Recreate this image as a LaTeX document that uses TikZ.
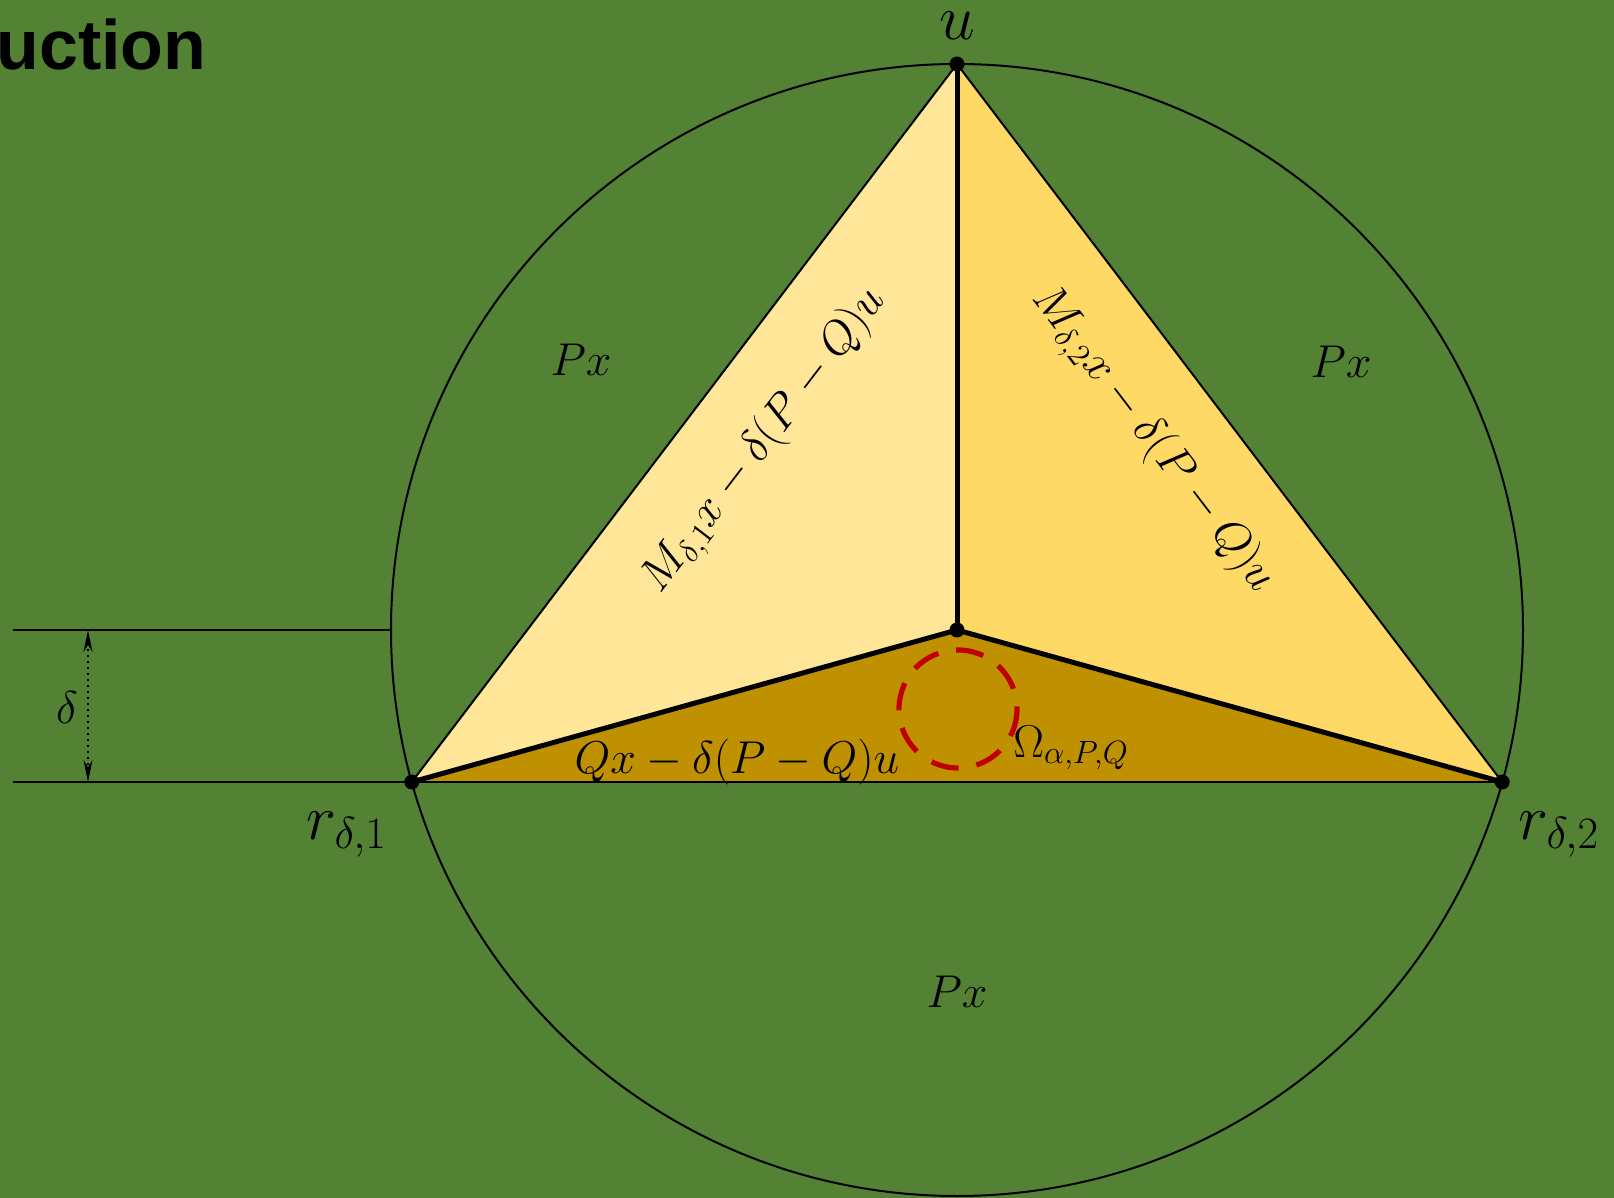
\RequirePackage{fix-cm}
\documentclass[tikz,border=0pt]{standalone}
\usepackage{fontspec}
\newfontfamily\headfont{Liberation Sans}
\usetikzlibrary{arrows.meta}

\definecolor{bggreen}{RGB}{84,130,53}
\definecolor{paleyel}{RGB}{255,230,153}
\definecolor{midyel}{RGB}{255,217,102}
\definecolor{darkgold}{RGB}{191,144,0}
\definecolor{darkred}{RGB}{192,0,0}

\begin{document}
\begin{tikzpicture}[
  x=0.5pt, y=-0.5pt,
  >={Stealth[length=11pt, width=4.5pt]},
  lbl/.style={inner sep=0pt, font=\fontsize{23}{28}\selectfont},
  biglbl/.style={inner sep=0pt, font=\fontsize{32}{38}\selectfont},
  vertex/.style={circle, fill=black, minimum size=7.5pt, inner sep=0pt},
  rim/.style={line width=1pt},
  spoke/.style={line width=2.5pt, line join=round},
]

% background and frame
\fill[bggreen] (0,0) rectangle (1614,1198);
\useasboundingbox (0,0) rectangle (1614,1198);

\coordinate (O)  at (957,630);
\coordinate (u)  at (957,64);
\coordinate (r1) at (411.8,782);
\coordinate (r2) at (1502.2,782);
\coordinate (lt) at (13,630);
\coordinate (lb) at (13,782);
\coordinate (cl) at (391,630);
\coordinate (dtop) at (88,630);
\coordinate (dbot) at (88,782);

% the three regions
\fill[paleyel]  (r1) -- (u) -- (O) -- cycle;
\fill[midyel]   (u) -- (r2) -- (O) -- cycle;
\fill[darkgold] (r1) -- (O) -- (r2) -- cycle;

\draw[rim] (O) circle (566);
\draw[rim] (r1) -- (u) -- (r2);
\draw[rim] (lb) -- (r1) -- (r2);
\draw[rim] (lt) -- (cl);
\draw[spoke] (u) -- (O);
\draw[spoke] (r1) -- (O) -- (r2);

% delta gap
\draw[<->, dotted, line width=1pt] (dtop) -- (dbot);
\node[lbl] (dlbl) at (67,708) {$\delta$};

\draw[darkred, line width=2.6pt, dash pattern=on 14pt off 9pt] (958,709) circle (59);

\node[vertex] (pu)  at (u)  {};
\node[vertex] (pO)  at (O)  {};
\node[vertex] (pr1) at (r1) {};
\node[vertex] (pr2) at (r2) {};

\node[anchor=base west, inner sep=0pt, font={\fontsize{35}{42}\headfont\bfseries}] (title) at (-4,70) {uction};

\node[biglbl, anchor=base] (ulbl) at (957,40) {$u$};
\node[lbl, anchor=base] (pxl) at (581,376) {$Px$};
\node[lbl, anchor=base] (pxr) at (1341,378) {$Px$};
\node[lbl, anchor=base] (pxb) at (957,1007) {$Px$};
\node[lbl, rotate=52.6]  (mone) at (765,441) {$M_{\delta,1}x-\delta(P-Q)u$};
\node[lbl, rotate=-52.6] (mtwo) at (1153,440) {$M_{\delta,2}x-\delta(P-Q)u$};
\node[lbl, anchor=base] (qlbl) at (737,773) {$Qx-\delta(P-Q)u$};
\node[lbl, anchor=base west] (omega) at (1013,757) {$\Omega_{\alpha,P,Q}$};
\node[biglbl, anchor=base west] (rone) at (306,839) {$r_{\delta,1}$};
\node[biglbl, anchor=base west] (rtwo) at (1518,839) {$r_{\delta,2}$};

\end{tikzpicture}
\end{document}
